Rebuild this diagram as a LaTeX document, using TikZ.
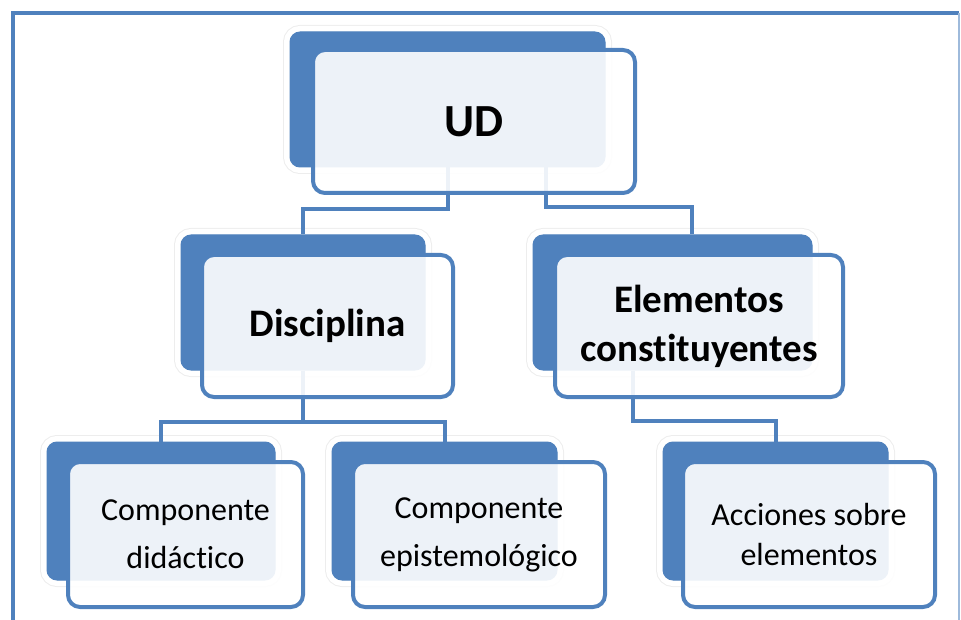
\documentclass[tikz,border=0pt]{standalone}
\usepackage{fontspec}
\setmainfont{Carlito}[Ligatures=NoCommon]
\definecolor{accent}{HTML}{4F81BD}

\begin{document}
\begin{tikzpicture}[x=1pt,y=-1pt,
  back/.style={draw=accent,fill=accent,line width=1pt,rounded corners=10pt,inner sep=0pt,
    preaction={draw=black!7,line width=14pt},preaction={draw=white,line width=12pt}},
  front/.style={draw=accent,line width=4pt,fill=white,fill opacity=0.9,text opacity=1,
    rounded corners=12pt,inner sep=0pt,align=center},
  link/.style={draw=accent,line width=4pt},
  big/.style={font=\fontsize{46}{50}\selectfont\bfseries},
  mid/.style={font=\fontsize{39}{49}\selectfont\bfseries},
  small/.style={font=\fontsize{32}{48}\selectfont}]
\useasboundingbox (0,0) rectangle (961,620);
\draw[accent,line width=3.5pt] (13,620) -- (13,13) -- (959,13);
\draw[accent!55,line width=2.5pt] (959,13) -- (959,620);

\node[back,minimum width=315pt,minimum height=135pt] (udb) at (447.5,99.5) {};
\node[back,minimum width=244pt,minimum height=135pt] (discb) at (303,302.5) {};
\node[back,minimum width=279pt,minimum height=135pt] (elb) at (672.5,302.5) {};
\node[back,minimum width=228pt,minimum height=138pt] (didb) at (161,511) {};
\node[back,minimum width=225pt,minimum height=138pt] (epib) at (444.5,511) {};
\node[back,minimum width=225pt,minimum height=138pt] (accb) at (775.5,511) {};

\draw[link] (udb.south) -- ++(0,42) -| (discb.north);
\draw[link] ([xshift=98.5pt]udb.south) -- ++(0,40) -| ([xshift=19.5pt]elb.north);
\draw[link] (discb.south) -- ++(0,51) -| (didb.north);
\draw[link] (discb.south) -- ++(0,51) -| (epib.north);
\draw[link] ([xshift=-39.5pt]elb.south) -- ++(0,50) -| (accb.north);

\node[front,big,minimum width=322pt,minimum height=143pt] (ud) at (474,121.5) {UD};
\node[front,mid,minimum width=251pt,minimum height=142pt] (disc) at (327.5,326) {Disciplina};
\node[front,mid,minimum width=288pt,minimum height=142pt] (el) at (699,326) {Elementos\\constituyentes};
\node[front,small,minimum width=235pt,minimum height=145pt] (did) at (185.5,534.5) {Componente\\did\'actico};
\node[front,small,minimum width=252pt,minimum height=145pt] (epi) at (479,534.5) {Componente\\epistemol\'ogico};
\node[front,small,font=\fontsize{32}{40}\selectfont,minimum width=252pt,minimum height=145pt] (acc) at (809,534.5) {Acciones sobre\\elementos};
\end{tikzpicture}
\end{document}
